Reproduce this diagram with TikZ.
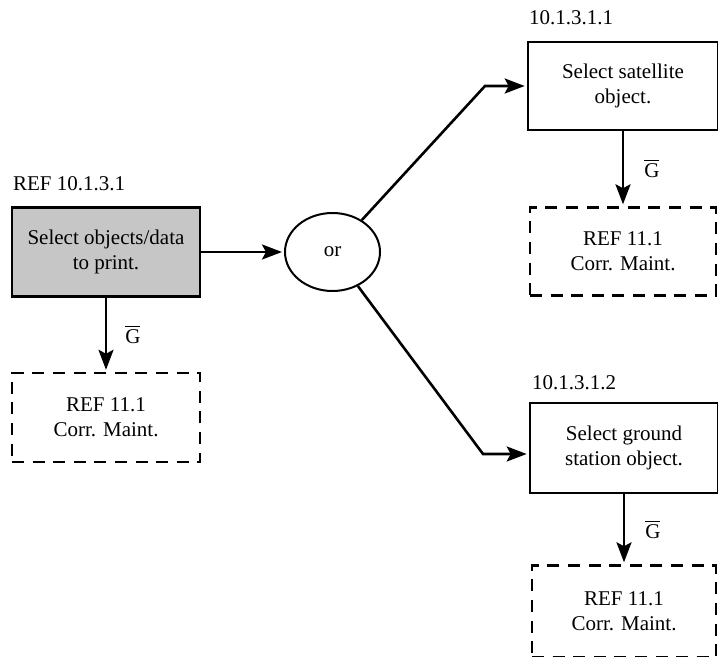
\documentclass[tikz,border=0pt]{standalone}
\usepackage{fontspec}
\setmainfont{Liberation Serif}
\usepackage{amsmath}
\usetikzlibrary{positioning, arrows.meta, shapes.geometric}

\begin{document}
\begin{tikzpicture}[x=0.5pt, y=-0.5pt, shorten >=1pt,
    every node/.style={font=\fontsize{10.5}{12.5}\selectfont},
    task/.style={draw, line width=1.3pt, align=center, inner sep=0pt},
    shaded/.style={task, fill=gray!45},
    refbox/.style={draw, line width=1.3pt, dash pattern=on 6pt off 4.3pt, align=center, inner sep=0pt},
    choice/.style={draw, ellipse, line width=1pt, minimum width=47.5pt, minimum height=39pt, inner sep=0pt},
    tag/.style={inner sep=0pt},
    flow/.style={line width=1.3pt, -{Stealth[length=10pt, width=7.5pt, inset=2pt]}}]
  \useasboundingbox (0,0) rectangle (718,657);

  \node[shaded, minimum width=94pt, minimum height=44.5pt] (sel) at (106,252) {Select objects/data\\to print.};
  \node[tag] (seltag) [above right=7.5pt and 1pt of sel.north west] {REF 10.1.3.1};
  \node[refbox, minimum width=94pt, minimum height=44.5pt] (selref) [below=37pt of sel] {REF 11.1\\Corr. Maint.};

  \node[choice] (or) at (332.5,252) {or};

  \node[task, minimum width=95pt, minimum height=44pt] (sat) at (623,86) {Select satellite\\object.};
  \node[tag] (sattag) [above right=7.5pt and 1pt of sat.north west] {10.1.3.1.1};
  \node[refbox, minimum width=93pt, minimum height=44pt] (satref) [below=37.5pt of sat] {REF 11.1\\Corr. Maint.};

  \node[task, minimum width=94pt, minimum height=45pt] (gnd) at (624,448) {Select ground\\station object.};
  \node[tag] (gndtag) [above right=5.5pt and 1.5pt of gnd.north west] {10.1.3.1.2};
  \node[refbox, minimum width=92pt, minimum height=46pt] (gndref) [below=35pt of gnd] {REF 11.1\\Corr. Maint.};

  \coordinate (up) at (485,86);
  \coordinate (dn) at (483,454);

  \draw[flow] (sel) -- (or);
  \draw[flow] (or) -- (up) -- (up -| sat.west);
  \draw[flow] (or) -- (dn) -- (dn -| gnd.west);

  \draw[flow] (sel) -- node[tag, right=9pt] {$\overline{\text{G}}$} (selref);
  \draw[flow] (sat) -- node[tag, right=10pt] {$\overline{\text{G}}$} (satref);
  \draw[flow] (gnd) -- node[tag, right=10pt] {$\overline{\text{G}}$} (gndref);
\end{tikzpicture}
\end{document}
